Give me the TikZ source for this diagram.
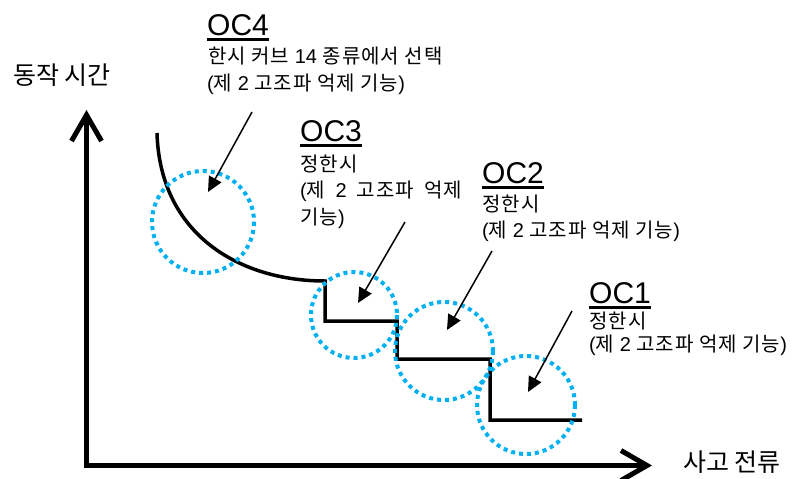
\documentclass[tikz,border=0pt]{standalone}
\usepackage{fontspec}
\setmainfont{Liberation Sans}
\newfontfamily\kr{Noto Sans CJK KR}
\newfontfamily\krs[LetterSpace=5]{Noto Sans CJK KR}
\usetikzlibrary{arrows.meta}
\definecolor{dotblue}{HTML}{00B0F0}
\begin{document}
\begin{tikzpicture}[x=1pt,y=-1pt,
  lbl/.style={anchor=base west, inner sep=0pt, font=\fontsize{30}{30}\selectfont},
  txt/.style={anchor=base west, inner sep=0pt, font=\fontsize{20}{20}\selectfont},
  axlbl/.style={anchor=base west, inner sep=0pt, font=\fontsize{25}{25}\selectfont\kr},
  axisline/.style={line width=5pt, -{Straight Barb[length=26pt,width=30pt]}},
  ring/.style={dotblue, line width=4pt, dash pattern=on 4pt off 4pt},
  lead/.style={line width=1.5pt, -{Triangle[length=15pt,width=14pt]}},
  curveline/.style={line width=3.5pt, line join=miter},
  uline/.style={line width=3pt}
]
\useasboundingbox (0,0) rectangle (793,479);

% axes
\coordinate (origin) at (86.5,465.5);
\coordinate (ytip) at (86.5,110);
\coordinate (xtip) at (652,465.5);
\coordinate (ybot) at (86.5,468);
\coordinate (xleft) at (84,465.5);
\draw[axisline] (ybot) -- (ytip);
\draw[axisline] (xleft) -- (xtip);
\node[axlbl] (ylab) at (13,84) {동작 시간};
\node[axlbl] (xlab) at (683,471) {사고 전류};

% characteristic curve
\coordinate (c0) at (157,133);
\coordinate (c1) at (325,281);
\coordinate (s1) at (325,321);
\coordinate (s2) at (397,321);
\coordinate (s3) at (397,359);
\coordinate (s4) at (490,359);
\coordinate (s5) at (490,420);
\coordinate (s6) at (582,420);
\draw[curveline] (c0) .. controls (160,235) and (240,281) .. (c1) -- (s1) -- (s2) -- (s3) -- (s4) -- (s5) -- (s6);

% dotted rings
\draw[ring] (203,222) circle[radius=51];
\draw[ring] (354,315) circle[radius=43];
\draw[ring] (444,351) circle[radius=49];
\draw[ring] (526,405) circle[radius=49];

% labels
\node[lbl] (oc4) at (207,35) {OC4};
\draw[uline] ([yshift=-4pt]oc4.base west) -- ([yshift=-4pt]oc4.base east);
\node[txt] (oc4a) at (208,63) {{\krs 한시 커브} 14 {\krs 종류에서 선택}};
\node[txt] (oc4b) at (207,90) {({\krs 제} 2 {\krs 고조파 억제 기능})};

\node[lbl] (oc3) at (300,141) {OC3};
\draw[uline] ([yshift=-4pt]oc3.base west) -- ([yshift=-4pt]oc3.base east);
\node[txt] (oc3a) at (300,171) {\krs 정한시};
\node[txt] (oc3b) at (300,197) {\makebox[162pt][s]{({\krs 제} 2 {\krs 고조파} {\krs 억제}}};
\node[txt] (oc3c) at (300,224) {{\krs 기능})};

\node[lbl] (oc2) at (482,183) {OC2};
\draw[uline] ([yshift=-4pt]oc2.base west) -- ([yshift=-4pt]oc2.base east);
\node[txt] (oc2a) at (482,211) {\krs 정한시};
\node[txt] (oc2b) at (482,237) {({\krs 제} 2 {\krs 고조파 억제 기능})};

\node[lbl] (oc1) at (589,303) {OC1};
\draw[uline] ([yshift=-4pt]oc1.base west) -- ([yshift=-4pt]oc1.base east);
\node[txt] (oc1a) at (589,328) {\krs 정한시};
\node[txt] (oc1b) at (589,351) {({\krs 제} 2 {\krs 고조파 억제 기능})};

% leader arrows
\coordinate (l4s) at (252,112);
\coordinate (l4e) at (208,192);
\coordinate (l3s) at (405,222);
\coordinate (l3e) at (358,303);
\coordinate (l2s) at (492,251);
\coordinate (l2e) at (447,330);
\coordinate (l1s) at (572,311);
\coordinate (l1e) at (528,392);
\draw[lead] (l4s) -- (l4e);
\draw[lead] (l3s) -- (l3e);
\draw[lead] (l2s) -- (l2e);
\draw[lead] (l1s) -- (l1e);
\end{tikzpicture}
\end{document}
